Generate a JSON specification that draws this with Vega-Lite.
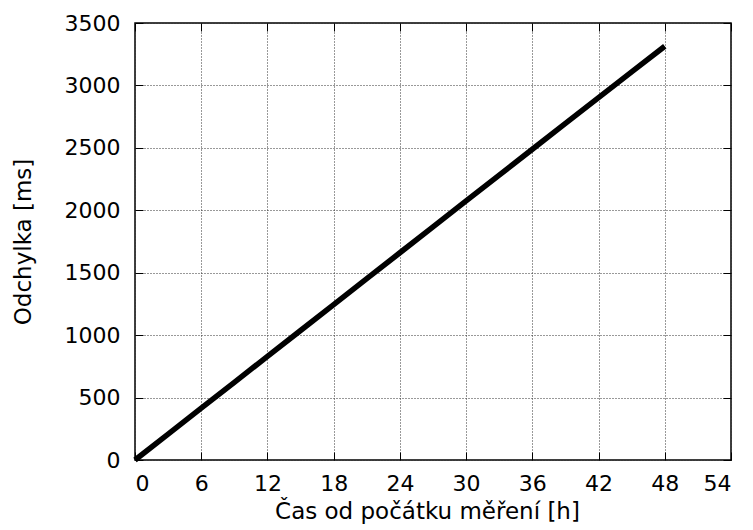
{
  "$schema": "https://vega.github.io/schema/vega-lite/v6.json",
  "autosize": {"type": "none"},
  "padding": {"left": 135, "top": 23, "right": 22, "bottom": 70},
  "width": 596,
  "height": 437,
  "background": "white",
  "config": {
    "font": "DejaVu Sans",
    "view": {"stroke": "black", "strokeWidth": 1.5},
    "axis": {
      "labelFont": "DejaVu Sans",
      "labelFontSize": 22,
      "labelColor": "black",
      "titleFont": "DejaVu Sans",
      "titleFontSize": 23,
      "titleFontWeight": "normal",
      "titleColor": "black",
      "domain": false,
      "tickColor": "black",
      "tickSize": -8,
      "tickWidth": 1,
      "gridColor": "#333",
      "gridDash": [1, 2],
      "gridWidth": 1
    }
  },
  "data": {
    "values": [
      {"t": 0, "d": 0},
      {"t": 3, "d": 207},
      {"t": 6, "d": 415},
      {"t": 9, "d": 622},
      {"t": 12, "d": 830},
      {"t": 15, "d": 1037},
      {"t": 18, "d": 1245},
      {"t": 21, "d": 1452},
      {"t": 24, "d": 1660},
      {"t": 27, "d": 1867},
      {"t": 30, "d": 2075},
      {"t": 33, "d": 2282},
      {"t": 36, "d": 2489},
      {"t": 39, "d": 2696},
      {"t": 42, "d": 2902},
      {"t": 45, "d": 3108},
      {"t": 48, "d": 3314}
    ]
  },
  "resolve": {"axis": {"x": "independent", "y": "independent"}},
  "layer": [
    {
      "mark": {"type": "line", "color": "black", "opacity": 0},
      "encoding": {
        "x": {
          "field": "t",
          "type": "quantitative",
          "scale": {"domain": [0, 54], "nice": false},
          "axis": {"orient": "top", "values": [0, 6, 12, 18, 24, 30, 36, 42, 48, 54], "labels": false, "grid": false, "title": null}
        },
        "y": {
          "field": "d",
          "type": "quantitative",
          "scale": {"domain": [0, 3500], "nice": false},
          "axis": {"orient": "right", "values": [0, 500, 1000, 1500, 2000, 2500, 3000, 3500], "labels": false, "grid": false, "title": null}
        }
      }
    },
    {
      "mark": {"type": "line", "color": "black", "strokeWidth": 5.5, "strokeCap": "butt"},
      "encoding": {
        "x": {
          "field": "t",
          "type": "quantitative",
          "scale": {"domain": [0, 54], "nice": false},
          "axis": {"orient": "bottom", "grid": true, "values": [0, 6, 12, 18, 24, 30, 36, 42, 48, 54], "format": "d", "labelPadding": 21, "title": "Čas od počátku měření [h]", "titlePadding": 6, "titleX": 292}
        },
        "y": {
          "field": "d",
          "type": "quantitative",
          "scale": {"domain": [0, 3500], "nice": false},
          "axis": {"orient": "left", "grid": true, "values": [0, 500, 1000, 1500, 2000, 2500, 3000, 3500], "format": "d", "labelPadding": 23, "title": "Odchylka [ms]", "titlePadding": 29}
        }
      }
    }
  ]
}
